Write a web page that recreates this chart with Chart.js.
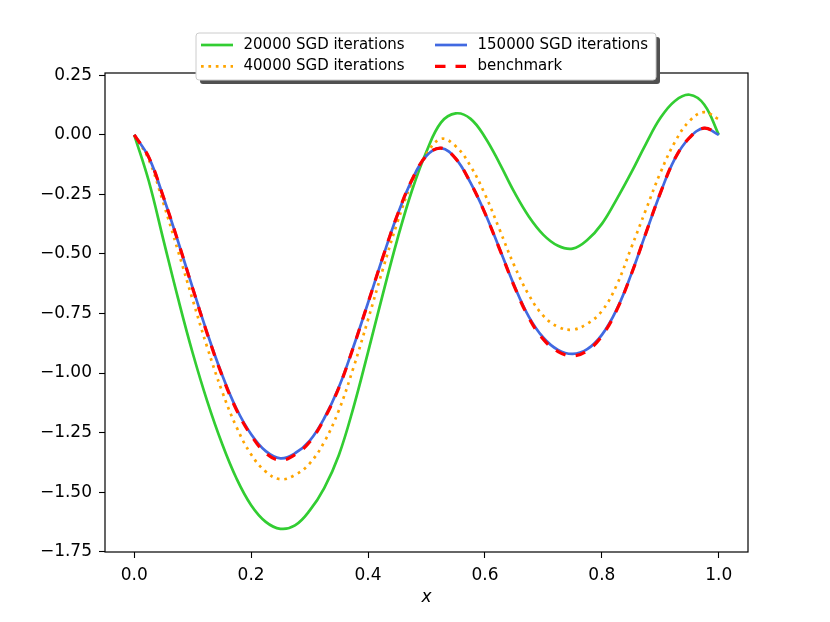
<!DOCTYPE html>
<html>
<head>
<meta charset="utf-8">
<script src="https://cdn.jsdelivr.net/npm/chart.js@4"></script>
<style>
  html, body { margin:0; padding:0; background:#fff; }
  #wrap { position:relative; width:830px; height:622px; }
</style>
</head>
<body>
<div id="wrap"><canvas id="c"></canvas></div>
<script>
// ---- data ----
const xs = [0, 0.025, 0.05, 0.075, 0.1, 0.125, 0.15, 0.175, 0.2, 0.225,
            0.25, 0.275, 0.3, 0.325, 0.35, 0.375, 0.4, 0.425, 0.45, 0.475,
            0.5, 0.525, 0.55, 0.575, 0.6, 0.625, 0.65, 0.675, 0.7, 0.725,
            0.75, 0.775, 0.8, 0.825, 0.85, 0.875, 0.9, 0.925, 0.95, 0.975, 1.0];

const sgd20000 = [0, -0.195, -0.442, -0.687, -0.916, -1.119, -1.295, -1.443, -1.555, -1.625,
                  -1.654, -1.64, -1.578, -1.483, -1.345, -1.145, -0.912, -0.672, -0.44, -0.235,
                  -0.07, 0.052, 0.09, 0.068, -0.01, -0.12, -0.24, -0.343, -0.42, -0.466,
                  -0.478, -0.442, -0.374, -0.272, -0.16, -0.04, 0.07, 0.142, 0.168, 0.127, 0];

const sgd40000 = [0, -0.105, -0.288, -0.488, -0.693, -0.893, -1.075, -1.227, -1.342, -1.414,
                  -1.446, -1.428, -1.38, -1.29, -1.157, -0.978, -0.776, -0.567, -0.369, -0.2,
                  -0.08, -0.017, -0.048, -0.13, -0.25, -0.398, -0.548, -0.672, -0.76, -0.806,
                  -0.818, -0.793, -0.74, -0.633, -0.476, -0.317, -0.16, -0.03, 0.058, 0.095, 0.065];

const sgd150000 = [0, -0.095, -0.262, -0.448, -0.643, -0.833, -1.005, -1.15, -1.257, -1.328,
                   -1.358, -1.337, -1.285, -1.19, -1.06, -0.89, -0.705, -0.516, -0.338, -0.19,
                   -0.088, -0.056, -0.1, -0.2, -0.328, -0.478, -0.632, -0.763, -0.852, -0.903,
                   -0.92, -0.9, -0.84, -0.735, -0.587, -0.415, -0.245, -0.1, -0.012, 0.028, 0];

const benchmark = [0, -0.095, -0.262, -0.448, -0.645, -0.836, -1.009, -1.155, -1.262, -1.336,
                   -1.366, -1.343, -1.29, -1.193, -1.062, -0.891, -0.705, -0.516, -0.338, -0.19,
                   -0.088, -0.056, -0.1, -0.2, -0.329, -0.48, -0.635, -0.768, -0.859, -0.91,
                   -0.928, -0.906, -0.845, -0.738, -0.588, -0.415, -0.245, -0.1, -0.012, 0.028, 0];

const seriesLabels = ['20000 SGD iterations', '40000 SGD iterations', '150000 SGD iterations', 'benchmark'];
const xTicks = [0.0, 0.2, 0.4, 0.6, 0.8, 1.0];
const yTicks = [-1.75, -1.5, -1.25, -1.0, -0.75, -0.5, -0.25, 0.0, 0.25];
const xTitle = 'x';

// ---- chart ----
const FONT = 'DejaVu Sans';
Chart.defaults.font.family = FONT;

const pts = arr => arr.map((y, i) => ({x: xs[i], y: y}));

const styles = [
  {color:'#32CD32', width:2.7, dash:[], order:4},
  {color:'#FFA500', width:2.7, dash:[2.7, 4.7], order:3},
  {color:'#4169E1', width:2.7, dash:[], order:2},
  {color:'#FF0000', width:3.2, dash:[10.5, 10], order:1}
];
const values = [sgd20000, sgd40000, sgd150000, benchmark];

const datasets = values.map((v, i) => ({
  label: seriesLabels[i],
  data: pts(v),
  borderColor: styles[i].color,
  backgroundColor: styles[i].color,
  borderWidth: styles[i].width,
  borderDash: styles[i].dash,
  borderCapStyle: 'butt',
  pointRadius: 0,
  pointHoverRadius: 0,
  fill: false,
  tension: 0.4,
  order: styles[i].order
}));

function roundRect(ctx, x, y, w, h, r) {
  ctx.beginPath();
  ctx.moveTo(x + r, y);
  ctx.lineTo(x + w - r, y);
  ctx.arcTo(x + w, y, x + w, y + r, r);
  ctx.lineTo(x + w, y + h - r);
  ctx.arcTo(x + w, y + h, x + w - r, y + h, r);
  ctx.lineTo(x + r, y + h);
  ctx.arcTo(x, y + h, x, y + h - r, r);
  ctx.lineTo(x, y + r);
  ctx.arcTo(x, y, x + r, y, r);
  ctx.closePath();
}

const framePlugin = {
  id: 'frame',
  afterDatasetsDraw(chart) {
    const {ctx, chartArea: a} = chart;
    ctx.save();
    ctx.strokeStyle = '#000';
    ctx.lineWidth = 1.2;
    ctx.setLineDash([]);
    ctx.strokeRect(a.left, a.top, a.right - a.left, a.bottom - a.top);
    ctx.restore();
  }
};

const legendPlugin = {
  id: 'mplLegend',
  afterDraw(chart) {
    const ctx = chart.ctx;
    const L = 196, T = 33, W = 460, H = 47, r = 3;
    ctx.save();
    roundRect(ctx, L + 4, T + 4, W, H, r);
    ctx.fillStyle = '#505050';
    ctx.fill();
    roundRect(ctx, L, T, W, H, r);
    ctx.fillStyle = '#ffffff';
    ctx.fill();
    ctx.strokeStyle = '#cccccc';
    ctx.lineWidth = 1;
    ctx.stroke();
    const colHandle = [201, 435];
    const colText = [243.5, 477.5];
    const rowY = [45, 66.3];
    const handleLen = 32;
    ctx.font = '15px "' + FONT + '"';
    ctx.textBaseline = 'middle';
    ctx.textAlign = 'left';
    chart.data.datasets.forEach((ds, i) => {
      const col = Math.floor(i / 2), row = i % 2;
      const y = rowY[row];
      ctx.beginPath();
      ctx.strokeStyle = ds.borderColor;
      ctx.lineWidth = ds.borderWidth;
      ctx.lineCap = 'butt';
      ctx.setLineDash(ds.borderDash || []);
      ctx.moveTo(colHandle[col], y);
      ctx.lineTo(colHandle[col] + handleLen, y);
      ctx.stroke();
      ctx.setLineDash([]);
      ctx.fillStyle = '#000';
      ctx.fillText(ds.label, colText[col], y);
    });
    ctx.restore();
  }
};

new Chart(document.getElementById('c'), {
  type: 'line',
  data: { datasets: datasets },
  options: {
    responsive: true,
    maintainAspectRatio: false,
    animation: false,
    devicePixelRatio: 1,
    layout: { padding: { left: 0, right: 82, top: 73, bottom: 0 } },
    plugins: { legend: { display: false }, tooltip: { enabled: false } },
    events: [],
    scales: {
      x: {
        type: 'linear',
        min: -0.05,
        max: 1.05,
        afterBuildTicks: s => { s.ticks = xTicks.map(v => ({value: v})); },
        afterFit: s => { s.height = 70; },
        ticks: {
          callback: v => Number(v).toFixed(1),
          font: { family: FONT, size: 17 },
          color: '#000',
          padding: 7,
          maxRotation: 0,
          autoSkip: false
        },
        grid: { display: true, drawOnChartArea: false, drawTicks: true, tickLength: 6, color: '#000', tickWidth: 1.1 },
        border: { display: false },
        title: {
          display: true,
          text: xTitle,
          color: '#000',
          font: { family: FONT, size: 17, style: 'italic' },
          padding: { top: 0, bottom: 14 }
        }
      },
      y: {
        type: 'linear',
        min: -1.7514,
        max: 0.2594,
        afterBuildTicks: s => { s.ticks = yTicks.map(v => ({value: v})); },
        afterFit: s => { s.width = 105; },
        ticks: {
          callback: v => (v < 0 ? '\u2212' : '') + Math.abs(v).toFixed(2),
          font: { family: FONT, size: 17 },
          color: '#000',
          padding: 7,
          autoSkip: false
        },
        grid: { display: true, drawOnChartArea: false, drawTicks: true, tickLength: 6, color: '#000', tickWidth: 1.1 },
        border: { display: false }
      }
    }
  },
  plugins: [framePlugin, legendPlugin]
});
</script>
</body>
</html>
